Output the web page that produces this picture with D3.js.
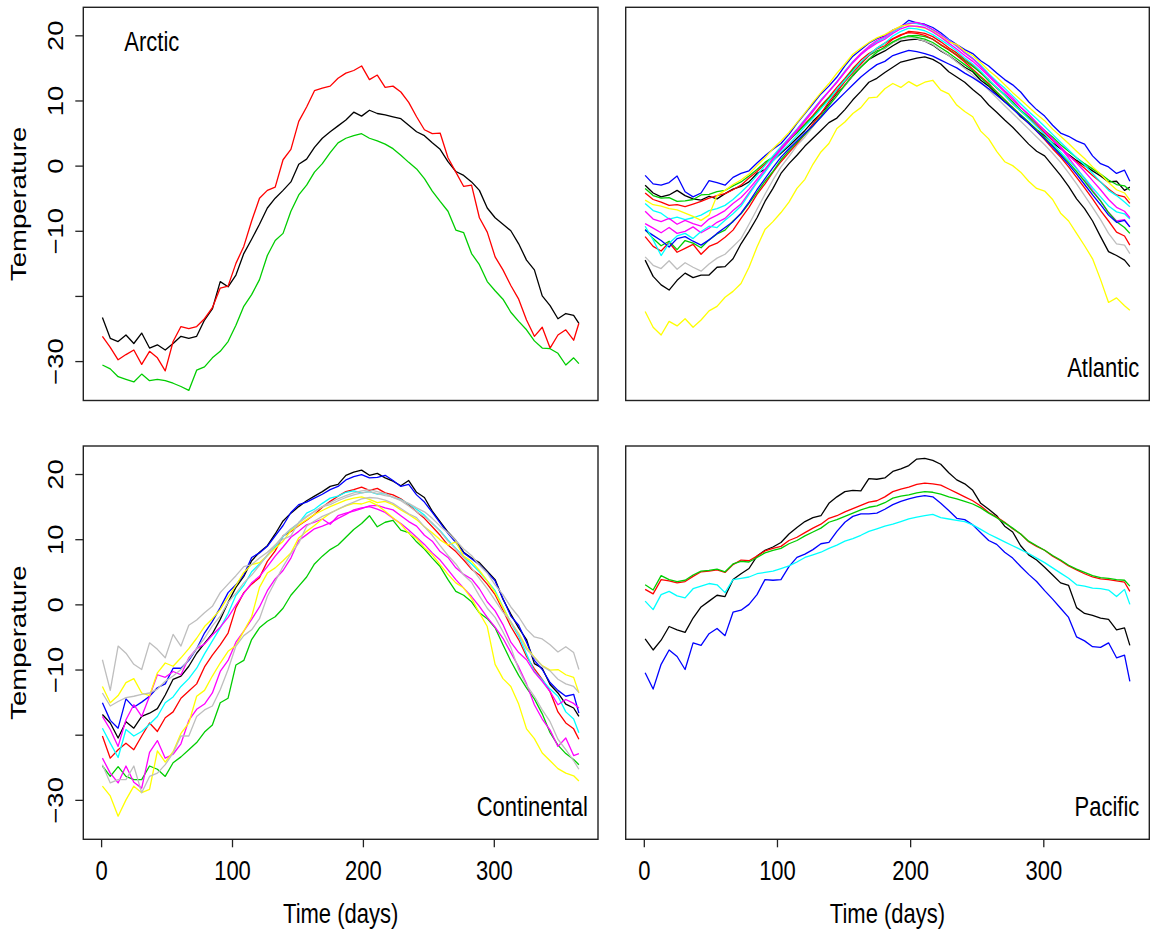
<!DOCTYPE html>
<html><head><meta charset="utf-8">
<script src="https://cdn.jsdelivr.net/npm/d3@7/dist/d3.min.js"></script>
<style>html,body{margin:0;padding:0;background:#fff;} svg{display:block;}</style>
</head><body><svg id="chart" width="1154" height="934"></svg>
<script>
// ---------------- DATA ----------------
const days = [1,7,13,19,25,31,37,43,49,55,61,67,73,79,85,91,97,103,109,115,121,127,133,139,145,151,157,163,169,175,181,187,193,199,205,211,217,223,229,235,241,247,253,259,265,271,277,283,289,295,301,307,313,319,325,331,337,343,349,355,361,365];
const xTicks = [0,100,200,300];
const xTickLabels = ["0","100","200","300"];
const yTicks = [-30,-20,-10,0,10,20];
const yTickLabels = ["\u221230","","\u221210","0","10","20"];
const regionNames = ["Arctic","Atlantic","Continental","Pacific"];
const xTitle = "Time (days)";
const yTitle = "Temperature";

// Arctic
const arcticBlack = [-23.3,-26.5,-27,-26,-27.3,-25.7,-28,-27.5,-28.3,-27.3, -26.2,-26.5,-26.2,-23.7,-22,-17.8,-18.6,-16.8,-13.5,-11.3, -9,-6.5,-5,-3.8,-2.5,0.2,1,2.8,4.2,5.2, 6.1,7,8.2,7.6,8.5,8,7.8,7.5,7.2,6.2, 5.2,4.6,3.5,2.5,0.6,-0.9,-1.5,-2.5,-3.8,-6.5, -8,-9,-10,-12,-14.5,-16,-20,-21.5,-23.5,-22.7, -23,-24.2];
const arcticRed = [-26.2,-27.9,-29.8,-29,-28.3,-30.5,-28.5,-29.5,-31.5,-27, -24.7,-25,-24.7,-23.5,-21.8,-18.8,-18.5,-15,-12.4,-8.5, -5,-3.8,-3.3,0.9,2.5,6.8,9,11.5,11.9,12.2, 13.4,14.2,14.6,15.3,13.2,13.9,12,12.2,11.3,9.7, 7.5,5.5,4.9,5,1.2,-1,-3.2,-3,-8,-10.2, -14,-16,-18.4,-20.5,-23.7,-26.2,-24.8,-28,-26,-25.2, -26.8,-24.2];
const arcticGreen = [-30.6,-31.2,-32.4,-32.8,-33.2,-32,-33,-32.8,-33,-33.4, -33.9,-34.5,-31.4,-30.9,-29.5,-28.5,-27,-24.5,-21.6,-19.8, -17.5,-13.8,-11.5,-10.4,-7,-4.5,-3,-1,0.3,2, 3.5,4.2,4.6,4.9,4.2,3.8,3.3,2.6,1.6,0.5, -0.5,-2,-3.9,-5.5,-7,-9.9,-10.3,-13.5,-15.2,-17.8, -19.2,-20.5,-22.5,-23.9,-25.2,-26.9,-28,-28.1,-28.8,-30.6, -29.5,-30.4];

// Atlantic
const atlBlack1 = [-3,-4.2,-4.8,-4.5,-3.8,-4.6,-5.1,-5.3,-4.7,-5.1, -4.3,-3.6,-3.2,-2.5,-1.2,-0.6,0.8,1.9,3,4.2, 5.4,6.8,8,9.4,11,12.3,13.8,15.2,16.3,17, 17.6,18.4,19.1,19.3,19.4,19.1,18.5,17.6,16.9,16, 15.1,14.4,13.1,12.2,11,9.8,8.9,7.5,6.6,5.5, 4.6,3.5,2.6,1.7,0.8,0,-0.8,-1.6,-2.5,-2.4, -3.8,-3.3];
const atlRed1 = [-4.2,-5.2,-5.6,-6.1,-6,-6.3,-5.9,-5.5,-5,-4.6, -4.3,-3.7,-3,-1.9,-0.9,0.2,1.3,2.5,3.8,5.2, 6.4,7.7,9.2,10.5,12,13.4,14.9,16.2,17.2,17.9, 18.4,19.4,20,20.6,20.5,20.3,19.8,19,18.1,17.3, 16.3,15.4,14.2,13.2,11.9,10.8,9.5,8.4,7.3,6.2, 5,3.9,2.8,1.5,0.6,-0.4,-1.5,-2.5,-3.6,-4.5, -4.8,-5.8];
const atlGreen1 = [-3.5,-4.6,-5,-4.9,-5.5,-5.4,-5.2,-4.5,-4.4,-4, -3.8,-3.1,-2.5,-1.6,-0.6,0.5,1.3,2.6,3.9,5, 6.3,7.5,8.9,10.4,11.6,13.2,14.7,15.8,16.9,17.6, 18,18.9,19.5,19.9,20,19.8,19.4,18.5,17.8,17, 16.1,15.2,14.3,13,12,10.9,9.8,8.5,7.5,6.5, 5.4,4.4,3.2,2.2,1.2,0.3,-0.5,-1.3,-2.2,-2.9, -3.1,-3.8];
const atlBlue1 = [-1.5,-2.8,-3,-2.6,-1.6,-4,-4.8,-4.2,-2.3,-2.6, -3,-1.8,-1.2,-0.8,0.4,1.5,2.5,3.4,4.8,6.5, 8,9.5,11,12.2,13.6,15.3,16.8,17.8,18.8,19.5, 19.9,20.8,21.3,22.3,21.9,21.7,21.2,20.4,19.4,18.6, 17.8,17.2,16.1,15.3,14.2,13.2,12.4,11.3,9.8,8.6, 7.6,6.2,5,4.5,3.8,3.3,1.5,0.3,-0.2,-1.2, -0.7,-2.4];
const atlCyan1 = [-5.8,-6.9,-7.3,-8.2,-7.9,-8.3,-8,-7.6,-6.9,-6.6, -6.1,-5.2,-4.1,-2.9,-1.5,0,1.5,2.9,4.2,5.6, 7.1,8.6,10.1,11.4,12.9,14.5,16,17.1,18.1,19, 19.6,20.5,21.2,21.9,21.8,21.5,20.8,20.1,19.3,18.3, 17.4,16.5,15.4,14.1,12.9,11.9,10.7,9.5,8.3,7.2, 6,4.8,3.6,2.4,1.2,0.1,-1.2,-2.5,-3.8,-4.6, -5.6,-6.3];
const atlMagenta1 = [-8.9,-9.6,-10.3,-9.5,-10.4,-10.1,-9.4,-10.3,-9.6,-8.7, -8.1,-6.9,-5.9,-4.2,-2.5,-0.9,0.9,2.4,3.9,5.3, 6.8,8.3,9.9,11.4,12.8,14.3,15.9,17.2,18.3,19.2, 19.8,20.7,21.4,21.8,22,21.6,20.9,20.1,19.2,18.4, 17.3,16.4,15.2,13.9,12.7,11.5,10.4,9,7.9,6.6, 5.3,4,2.7,1.2,-0.4,-2,-3.8,-5.4,-7.2,-8.5, -8.3,-9.4];
const atlYellow1 = [-5.3,-6,-6.2,-6.6,-6.8,-7.3,-7.8,-8.4,-7.6,-4.6, -3.8,-2.9,-2.2,-1.3,0,1.2,2.6,3.8,5.1,6.6, 8.1,9.7,11.2,12.6,14.2,15.6,17.1,18,18.9,19.6, 20.1,20.8,21.4,21.6,21.3,21.1,20.6,19.8,19,18.6, 17.6,16.9,15.8,14.6,13.6,12.4,11.2,10.1,9,7.9, 6.9,5.6,4.5,3.4,2.2,1.1,-0.2,-1.3,-2.6,-3.7, -4.2,-5.3];
const atlGray = [-14,-15.3,-15.8,-14.6,-15.9,-14.9,-15.6,-16.2,-15.1,-14.2, -13.6,-12.4,-11.2,-9,-6.7,-4.4,-2.2,-0.2,1.4,3.1, 4.4,6,7.6,9.2,10.8,12.3,13.9,15.2,16.4,17.4, 18.1,18.9,19.4,19.7,19.5,19.1,18.6,17.7,16.9,15.9, 14.9,13.9,12.8,11.6,10.4,9.2,8,6.8,5.6,4.4, 3.2,1.9,0.5,-1.1,-2.8,-4.6,-6.4,-8.3,-10.4,-12, -12.2,-13.5];
const atlBlack2 = [-14.5,-17,-18.3,-19.1,-17.6,-16.5,-17.2,-16.8,-16.8,-15.6, -15.5,-14.3,-12,-10.1,-8,-5.5,-3.5,-1.2,0.3,1.6, 3,4.2,5.4,6.6,7.3,8.6,10.1,11.4,12.8,13.4, 14.3,15.1,15.9,16.2,16.5,16.7,16.3,15.6,14.4,13.6, 12.8,11.7,10.7,9.3,8.2,7,5.9,4.6,3.3,2.2, 1.5,0,-1.5,-3.2,-5.1,-6.6,-8.5,-10.9,-13.2,-13.8, -14.5,-15.5];
const atlRed2 = [-10.9,-12.4,-13.1,-11.8,-13.3,-12.7,-12.1,-13.6,-12.4,-11.9, -11,-9.9,-8.1,-6.4,-4.4,-2.8,-1,0.6,2,3.4, 4.8,6.4,8,9.8,11.3,12.9,14.3,15.6,16.9,18, 18.8,19.5,20.1,20.4,20.3,20,19.4,18.6,17.8,16.9, 15.9,14.8,13.7,12.6,11.3,10.1,8.9,7.7,6.5,5.3, 4,2.6,1.3,-0.2,-1.8,-3.4,-5.1,-6.9,-8.5,-10.2, -10.8,-12.2];
const atlGreen2 = [-9.8,-11.2,-12.3,-11.6,-12.9,-11.5,-11.9,-12.6,-11.4,-10.5, -9.9,-8.5,-7.4,-5.8,-4.1,-2.4,-0.9,0.9,2.3,3.6, 4.8,6.1,7.6,9.2,10.7,12.4,13.9,15.1,16.3,17.4, 18.2,19,19.6,19.9,19.7,19.4,18.9,18.1,17.3,16.4, 15.5,14.6,13.5,12.4,11.3,10.1,8.9,7.8,6.7,5.5, 4.3,3.1,1.8,0.5,-0.9,-2.4,-4,-5.4,-7.2,-8.6, -9.5,-10.4];
const atlBlue2 = [-9.9,-10.7,-11.5,-12.5,-11.2,-10.9,-11.6,-12.2,-11.4,-10.4, -9.5,-8.6,-7.3,-5.6,-3.7,-2,-0.3,1.3,2.6,3.8, 5,6.1,7.4,8.8,10,11.2,12.4,13.6,14.6,15.5, 16,16.9,17.3,17.7,17.5,17.2,16.8,16.2,15.6,15, 14.2,13.5,12.7,11.8,10.8,9.8,8.7,7.6,6.5,5.3, 4.1,2.9,1.6,0.2,-1.3,-2.9,-4.5,-6,-7.6,-8.7, -8.4,-9.4];
const atlCyan2 = [-9.3,-11.4,-13.8,-11.9,-10.8,-10.4,-11.2,-10.1,-9.3,-9.5, -8.4,-7.4,-6.2,-4.4,-2.6,-1,0.7,2.1,3.3,4.6, 6,7.3,8.7,10.1,11.7,13.1,14.5,15.9,17,18, 18.8,19.9,20.6,21.1,21,20.7,20.1,19.3,18.5,17.6, 16.5,15.6,14.5,13.2,12,10.8,9.5,8.4,7.2,6, 4.8,3.4,2.1,0.8,-0.5,-1.9,-3.4,-4.8,-6.2,-7.1, -7.4,-8.2];
const atlMagenta2 = [-7,-8.2,-8.6,-8.1,-9,-8.4,-8.9,-9.3,-8.2,-7.6, -6.9,-5.8,-4.9,-3.6,-2.1,-0.6,1.1,2.7,4.1,5.5, 7,8.5,10,11.4,12.8,14.4,15.8,17,18,18.8, 19.4,20.3,21,21.4,21.4,21.2,20.5,19.7,18.8,17.9, 16.9,16,14.9,13.7,12.5,11.3,10.1,8.9,7.8,6.6, 5.4,4.1,2.9,1.6,0.4,-0.9,-2.3,-3.7,-5.2,-6.4, -7,-8];
const atlYellow2 = [-22.4,-24.8,-26,-23.9,-24.6,-23.5,-24.8,-23.7,-22.3,-21.6, -20.2,-19.3,-18.1,-15.6,-12.5,-9.8,-8.6,-7.2,-5.6,-3.5, -2.1,0.2,2.1,3.4,5.7,6.7,8,8.9,10.4,10.5, 11.8,12.6,12,12.9,12.2,12.8,13.1,11.6,11,9.3, 8.3,7.5,5.3,4.1,2.2,0.6,0,-1,-2.4,-3.5, -3.9,-5.2,-7.3,-8.5,-10.4,-12.3,-14.3,-17.5,-21,-20.3, -21.5,-22.2];

// Continental
const conBlack = [-16.9,-18.2,-20.5,-18,-19,-17.2,-16.7,-16,-13.9,-11.5, -11,-9.5,-7.5,-6,-4.5,-2.3,0.3,2.6,4.3,6.7, 8,9,10.8,12.8,14,15,15.9,16.6,17.3,18.1, 18.4,19.8,20.3,20.6,19.8,20.1,19.4,18.9,18.2,19, 17.2,16.4,14.3,12.7,11.1,9.8,8,7.1,6.4,5.1, 3.8,0.8,-1.5,-3.6,-5.4,-9.1,-9.8,-12.3,-13.6,-15.3, -15.9,-17.2];
const conRed = [-20.2,-23.6,-22.3,-21.3,-22.3,-20.2,-18.2,-19.5,-17.4,-16.5, -14.4,-13.3,-12.2,-9.6,-7.8,-6.2,-4.4,-0.5,1.8,3.1, 4.1,6.6,8.2,10.5,11.2,12.1,12.9,13.8,14.9,15.8, 16.6,17.3,17.6,18,17.5,17.8,17.1,16.8,16.2,15.3, 14.2,13.2,11.9,10.6,9.1,8.1,6.8,5.4,4.5,3.1, 1.5,-0.9,-3.4,-5.4,-8,-9.9,-11.5,-13.4,-16.5,-18.2, -19.1,-20.7];
const conGreen = [-24.8,-26.4,-24.9,-26.4,-26.9,-26.9,-24.8,-25.3,-26.4,-24.3, -23.4,-22.3,-21.2,-19.6,-18.5,-15.1,-14.4,-9.3,-8.6,-5.4, -3.6,-2.6,-1.9,-0.6,1.4,2.8,4.2,6.2,7.4,8.4, 9.1,10.3,11.5,12.4,13.6,11.9,12.6,12.9,11.4,11, 9.6,8.5,7.1,5.8,3.8,2,1.4,0.4,-1.3,-2.2, -3.6,-6.2,-8.7,-10.9,-12.8,-14.5,-16.8,-19.7,-21.6,-22.9, -23.8,-24.6];
const conBlue = [-15.1,-17.8,-19,-14.5,-15.8,-15,-14.1,-12.8,-12.2,-9.8, -9.8,-8.6,-6.8,-4.4,-2.6,-0.5,1.8,3,4.5,7.2, 7.9,8.9,10.5,12.1,14.1,15.3,15.7,16.3,16.9,17.6, 18.1,19.1,19.6,19.9,19.4,19.5,19.8,19,18.1,18.4, 16.8,15.7,14.1,12.5,10.9,9.5,7.9,7,6.1,4.9, 3.6,0.9,-1.8,-3.2,-5.8,-8.6,-10,-12,-13.2,-14.1, -13.8,-16.7];
const conCyan = [-19,-21.3,-23.5,-19.2,-20.2,-19.5,-18.4,-17.2,-15.1,-14.2, -12.6,-11.4,-9.8,-7.6,-5.6,-3.6,-1.4,1.4,2.9,5, 6.2,7.5,8.8,10.4,11.5,12.5,14,14.6,15.5,16.3, 16.6,17.2,17.4,17.1,17.3,16.9,17,16.4,16.1,15.4, 14.6,13.7,12.4,11.3,9.9,8.6,7.3,6.2,5,3.6, 2.1,-0.4,-2.8,-4.9,-7.6,-10.3,-11.6,-13,-14.1,-16.5, -17.6,-19.7];
const conMagenta1 = [-17.2,-19.2,-21.8,-17.7,-15.4,-17.2,-14.1,-10.8,-11.2,-10.3, -10.8,-8.2,-6.8,-6.1,-4.7,-3.5,-2,-0.1,1.7,3.3, 4.3,5.8,7.4,8.8,10.3,11.2,12.2,12.6,13.1,12.3, 13.6,14,14.3,14.7,15.1,15.2,14.8,14.5,13.6,12.7, 12,10.6,9.7,8.1,7.2,5.6,4.6,3.9,2.4,0.4, -1,-3.1,-5.8,-7.4,-8.5,-10.4,-11.8,-13.4,-15.4,-14.6, -15.2,-15.9];
const conYellow1 = [-12.6,-15.1,-14,-12,-11.4,-13.6,-14,-10.5,-9,-9.5, -8.2,-6.8,-5.2,-3.4,-2.2,-0.8,1.1,2.9,4.9,6.1, 6.4,7.5,8.6,9.7,11.3,12.2,13,13.8,14.4,15, 15.5,16,16.3,16.5,16.1,15.6,15.8,15.3,14.5,13.8, 13,11.9,11,9.9,9.1,9.6,7.4,6.6,5.2,3.6, 1.8,-0.5,-2.8,-4.4,-6.6,-8.1,-9.4,-10.1,-10,-10.8, -11.2,-13.6];
const conGray1 = [-8.5,-13.2,-6.4,-7.5,-9.2,-10,-5.9,-6.9,-8.2,-4.6, -6.4,-3.2,-2.4,-1.3,-0.3,1.8,3.1,4.4,5.8,6.1, 7.1,8,9.1,10,10.5,12.6,13.5,14.3,15,15.3, 15.9,16.4,16.8,17.1,17.3,17,16.7,16.5,16,15.5, 14.8,14.2,13.2,12,11,9.8,8.5,7.5,6,4.8, 3,1.5,-0.4,-1.9,-3.8,-5,-5.3,-6.2,-7.3,-6.5, -7.4,-10];
const conGray2 = [-13.6,-15.6,-14.9,-14.3,-14.1,-13.8,-13.6,-13,-11.8,-11, -10,-8.4,-6.8,-5.2,-3.3,-1.8,0.3,1.7,3.3,4.5, 6,7.6,9.1,10.5,11.6,12.5,13.4,14.2,15,15.6, 16.2,16.7,17.1,17.4,17.6,17.3,17,16.4,15.9,15.1, 14.2,13.5,12.5,11.2,9.7,8.5,7.2,5.6,4,2.4, 0.6,-1.2,-2.6,-4.6,-6.9,-8.2,-9.5,-10.2,-11.5,-12.2, -12.6,-13.5];
const conMagenta2 = [-23.6,-25.9,-27.4,-24.8,-27.3,-28.2,-22.7,-20.9,-23.6,-23, -21.4,-17.8,-16.1,-15.3,-13.6,-10.3,-8.6,-5.8,-4.1,-2.3, -0.4,2.1,3.9,5.2,7.1,9.8,10.7,11.6,12,12.5, 13.2,13.8,14.5,14.8,15,14.6,14.1,13.2,12.4,11.4, 10.3,9.2,7.9,6.8,5.3,3.8,2.5,1.2,-0.3,-2, -3.5,-5.2,-7.4,-9.6,-12.2,-15.4,-17.6,-19.3,-21.8,-20.5, -23.2,-22.9];
const conYellow2 = [-27.9,-29.4,-32.5,-30,-27.9,-28.9,-28.4,-22.5,-24.2,-22.6, -19.8,-18.2,-14.1,-13.2,-11,-9,-7.2,-6.3,-4.1,-1.9, 2.6,4.8,5.6,6.7,7.9,10.2,11.2,12.1,13.1,14, 14.6,15.1,15.5,15.4,15.8,15.2,14.3,13.3,12.3,10.9, 10.1,8.7,7.6,6.1,4.6,3.3,2.5,0.9,-1.3,-3.4, -9.2,-11.4,-12.6,-15.3,-19.1,-20.6,-22.8,-24,-25.2,-25.9, -26.3,-27.1];
const conGray3 = [-24.6,-27.4,-26.9,-26.9,-24.8,-28.9,-26.4,-25.9,-24.6,-22.8, -20.2,-20.2,-17.2,-16.2,-15.6,-13.1,-10,-6.4,-4.8,-3.9, -2.2,1.2,3.5,5.8,7.8,9.4,12,12.8,13.5,14, 14.6,15.2,15.7,16.2,16.4,16.3,16,15.5,14.7,13.9, 13.3,11.9,10.6,9,7.5,6.2,4.5,3.4,1.3,-0.6, -2,-4.2,-6.6,-10,-12.4,-14.1,-16.2,-18,-20.7,-22.3, -24,-25.3];

// Pacific
const pacBlack = [-5.3,-7,-5.5,-3.4,-3.9,-4.3,-2.1,-0.4,0.5,1.4, 1.2,3.8,4.7,5.5,7.4,8.3,8.8,9.5,10.8,11.8, 12.7,13.3,13.6,15.5,16.5,17.3,17.5,17.4,19.3,19.2, 19.4,20.4,20.8,21.3,22.3,22.4,22.1,21.5,20.2,19.1, 18.5,17.5,15.5,14.6,13.6,12,11.1,9,7.6,6.8, 5.7,4.5,3.3,2.9,-0.5,-1.4,-1.7,-2.1,-2.3,-3.9, -3.6,-6.3];
const pacRed = [2.3,1.6,3.8,3.6,3.3,3.5,4.3,5,5.1,5.3, 4.9,6.1,6.8,6.7,7.4,8.2,8.6,8.9,9.8,10.3, 11,11.7,12.3,13.2,13.6,14.2,14.7,15.2,15.7,15.9, 16.5,17.3,17.7,18,18.4,18.6,18.5,18.3,17.7,17.1, 16.5,15.9,15.1,14.1,13.4,12.6,11.6,10.8,9.6,8.9, 8.3,7.4,6.7,5.9,5.3,4.7,4.2,3.9,3.8,3.6, 3.4,2];
const pacGreen = [3,2.2,4.4,3.8,3.5,3.7,4.5,5.1,5.2,5.4, 5,6.2,6.6,6.5,7.2,7.9,8.3,8.6,9.3,9.8, 10.5,11.1,11.7,12.6,13,13.5,14,14.5,14.9,15.1, 15.6,16.3,16.6,16.8,17.1,17.3,17.2,16.9,16.5,16.2, 15.8,15.4,14.8,14,13.3,12.5,11.7,10.8,9.7,9, 8.3,7.5,6.8,6,5.4,4.9,4.4,4.1,4,3.8, 3.7,2.8];
const pacBlue = [-10.5,-13,-9.2,-7,-8,-10,-5.9,-6.3,-4.5,-3.7, -4.8,-1.2,-0.9,0,1.5,3.8,3.7,3.8,5.8,7.2, 7.7,8.4,9.3,9.5,11.2,12.6,13.5,13.9,13.9,14, 14.6,15.3,15.8,16.2,16.5,16.7,16.5,15.5,14.4,13.2, 13,12.2,11,9.8,9.2,8,7.1,5.8,4.6,3.5, 2.1,0.8,-0.6,-2,-5,-5.6,-6.5,-6.6,-5.9,-8.2, -7.8,-11.8];
const pacCyan = [0.5,-0.8,1.5,2,1.3,1,2.4,2.8,3.2,3, 1.8,3.8,4,4.2,4.7,4.9,5.1,5.5,5.9,6.5, 7.2,7.6,8,8.6,9.1,9.7,10.1,10.6,11.2,11.6, 12,12.3,12.7,13.1,13.4,13.6,13.8,13.3,13.1,12.9, 12.7,12.2,11.5,10.8,10.2,9.6,9,8.4,7.8,7.1, 6.4,5.6,4.8,4,3,2.8,2.5,2.4,2.2,1.2, 2.3,0];

// series per region (R default palette colours)
const C = {black:"#000000", red:"#FF0000", green:"#00CD00", blue:"#0000FF", cyan:"#00FFFF", magenta:"#FF00FF", yellow:"#FFFF00", gray:"#BEBEBE"};
const arcticSeries = [[arcticBlack,C.black],[arcticRed,C.red],[arcticGreen,C.green]];
const atlanticSeries = [[atlBlack1,C.black],[atlRed1,C.red],[atlGreen1,C.green],[atlBlue1,C.blue],[atlCyan1,C.cyan],[atlMagenta1,C.magenta],[atlYellow1,C.yellow],[atlGray,C.gray],[atlBlack2,C.black],[atlRed2,C.red],[atlGreen2,C.green],[atlBlue2,C.blue],[atlCyan2,C.cyan],[atlMagenta2,C.magenta],[atlYellow2,C.yellow]];
const continentalSeries = [[conBlack,C.black],[conRed,C.red],[conGreen,C.green],[conBlue,C.blue],[conCyan,C.cyan],[conMagenta1,C.magenta],[conYellow1,C.yellow],[conGray1,C.gray],[conGray2,C.gray],[conMagenta2,C.magenta],[conYellow2,C.yellow],[conGray3,C.gray]];
const pacificSeries = [[pacBlack,C.black],[pacRed,C.red],[pacGreen,C.green],[pacBlue,C.blue],[pacCyan,C.cyan]];

// ---------------- LAYOUT ----------------
const FONT = "'Liberation Sans', Arial, Helvetica, sans-serif";
const FS = 27.5, SQ = 0.8;           // font size, horizontal squeeze of the original
const xDomain = [-13.6, 379.6], yDomain = [-36.05, 24.3];
const cols = [{x0:83.3, x1:598}, {x0:625.7, x1:1149.3}];
const rows = [{y0:7.3, y1:400.5}, {y0:446, y1:839.3}];
const panels = [
  {name: regionNames[0], series: arcticSeries, c:0, r:0, lab:"tl"},
  {name: regionNames[1], series: atlanticSeries, c:1, r:0, lab:"br"},
  {name: regionNames[2], series: continentalSeries, c:0, r:1, lab:"br"},
  {name: regionNames[3], series: pacificSeries, c:1, r:1, lab:"br"}
];

const svg = d3.select("#chart");
const sq = (x, y, rot) => `translate(${x},${y}) scale(${SQ},1)` + (rot ? " rotate(-90)" : "");

panels.forEach(p => {
  const {x0, x1} = cols[p.c], {y0, y1} = rows[p.r];
  const x = d3.scaleLinear().domain(xDomain).range([x0, x1]);
  const y = d3.scaleLinear().domain(yDomain).range([y1, y0]);
  const g = svg.append("g");
  const line = d3.line().x((d, i) => x(days[i])).y(d => y(d));
  p.series.forEach(([vals, col]) => {
    g.append("path").attr("d", line(vals)).attr("fill", "none")
      .attr("stroke", col).attr("stroke-width", 1.3).attr("stroke-linejoin", "round");
  });
  g.append("rect").attr("x", x0).attr("y", y0).attr("width", x1 - x0).attr("height", y1 - y0)
    .attr("fill", "none").attr("stroke", "#222").attr("stroke-width", 1.4);

  // panel label
  if (p.lab === "tl") {
    svg.append("text").attr("transform", sq(x0 + 41, y0 + 43.4)).attr("text-anchor", "start")
      .attr("font-family", FONT).attr("font-size", FS).text(p.name);
  } else {
    svg.append("text").attr("transform", sq(x1 - 10, y1 - 23.5)).attr("text-anchor", "end")
      .attr("font-family", FONT).attr("font-size", FS).text(p.name);
  }

  if (p.c === 0) {
    const ax = svg.append("g").attr("transform", `translate(${x0},0)`)
      .call(d3.axisLeft(y).tickValues(yTicks).tickSize(8).tickFormat((d, i) => yTickLabels[i]));
    ax.select(".domain").remove();
    ax.selectAll(".tick line").attr("stroke", "#222").attr("stroke-width", 1.3);
    ax.selectAll(".tick text").attr("x", null).attr("dy", null).attr("fill", "#000")
      .attr("transform", sq(-20, 0, true)).attr("text-anchor", "middle")
      .attr("font-family", FONT).attr("font-size", FS);
    svg.append("text").attr("transform", sq(26, (y0 + y1) / 2, true)).attr("text-anchor", "middle")
      .attr("font-family", FONT).attr("font-size", FS).text(yTitle);
  }
  if (p.r === 1) {
    const ax = svg.append("g").attr("transform", `translate(0,${y1})`)
      .call(d3.axisBottom(x).tickValues(xTicks).tickSize(8).tickFormat((d, i) => xTickLabels[i]));
    ax.select(".domain").remove();
    ax.selectAll(".tick line").attr("stroke", "#222").attr("stroke-width", 1.3);
    ax.selectAll(".tick text").attr("y", null).attr("dy", null).attr("fill", "#000")
      .attr("transform", sq(0, 40.7)).attr("text-anchor", "middle")
      .attr("font-family", FONT).attr("font-size", FS);
    svg.append("text").attr("transform", sq((x0 + x1) / 2, 923)).attr("text-anchor", "middle")
      .attr("font-family", FONT).attr("font-size", FS).text(xTitle);
  }
});
</script></body></html>
